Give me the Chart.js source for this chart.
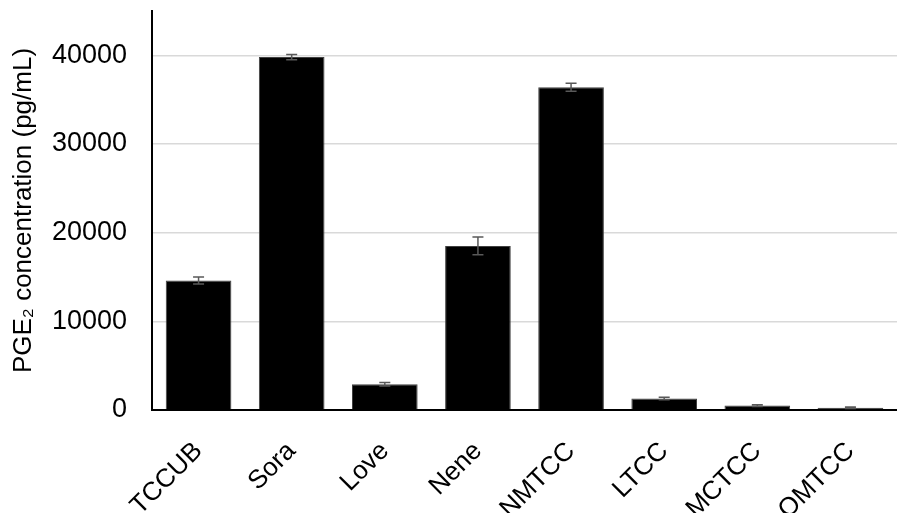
<!DOCTYPE html>
<html>
<head>
<meta charset="utf-8">
<script src="https://cdn.jsdelivr.net/npm/chart.js@4/dist/chart.umd.min.js"></script>
<style>
  html, body { margin: 0; padding: 0; background: #fff; }
  #wrap { width: 897px; height: 513px; }
</style>
</head>
<body>
<div id="wrap"><canvas id="c" width="897" height="513"></canvas></div>
<script>
// Cell lines and measured PGE2 levels (mean and error)
const categories = ['TCCUB', 'Sora', 'Love', 'Nene', 'NMTCC', 'LTCC', 'MCTCC', 'OMTCC'];
const meanValues = [14600, 39800, 2900, 18500, 36400, 1300, 500, 250];
const errorValues = [400, 300, 200, 1000, 450, 150, 100, 80];
const yTicks = [0, 10000, 20000, 30000, 40000];

const FONT = '"Liberation Sans", Arial, sans-serif';

// Draws symmetric error bars on top of each bar using the chart's own scales
const errorBars = {
  id: 'errorBars',
  afterDatasetsDraw(chart) {
    const ctx = chart.ctx;
    const meta = chart.getDatasetMeta(0);
    const y = chart.scales.y;
    ctx.save();
    ctx.strokeStyle = '#595959';
    ctx.lineWidth = 1.5;
    meta.data.forEach((bar, i) => {
      const x = bar.x;
      const top = y.getPixelForValue(meanValues[i] + errorValues[i]);
      const bot = y.getPixelForValue(meanValues[i] - errorValues[i]);
      const cap = 5.5;
      ctx.beginPath();
      ctx.moveTo(x, top); ctx.lineTo(x, bot);
      ctx.moveTo(x - cap, top); ctx.lineTo(x + cap, top);
      ctx.moveTo(x - cap, bot); ctx.lineTo(x + cap, bot);
      ctx.stroke();
    });
    ctx.restore();
  }
};

new Chart(document.getElementById('c'), {
  type: 'bar',
  data: {
    labels: categories,
    datasets: [{
      data: meanValues,
      backgroundColor: '#000000',
      borderColor: '#404040',
      borderWidth: 1,
      barPercentage: 0.705,
      categoryPercentage: 1.0
    }]
  },
  options: {
    responsive: false,
    animation: false,
    layout: { padding: { top: 11, right: 0, left: 0, bottom: 0 } },
    plugins: { legend: { display: false }, tooltip: { enabled: false } },
    scales: {
      x: {
        grid: { display: false, drawTicks: false },
        border: { display: true, color: '#000', width: 2 },
        ticks: {
          color: '#000',
          font: { family: FONT, size: 26 },
          minRotation: 45,
          maxRotation: 45,
          padding: 26,
          autoSkip: false
        },
        afterFit(scale) {
          scale.height = 103;
          scale.paddingLeft = 0;
          scale.paddingRight = 0;
        }
      },
      y: {
        min: 0,
        max: 45000,
        afterBuildTicks(scale) {
          scale.ticks = yTicks.map(v => ({ value: v }));
        },
        grid: { color: '#d9d9d9', lineWidth: 1.5, drawTicks: false },
        border: { display: true, color: '#000', width: 2 },
        ticks: {
          color: '#000',
          font: { family: FONT, size: 27 },
          padding: 25,
          callback: v => String(v)
        },
        title: {
          display: true,
          text: 'PGE\u2082 concentration (pg/mL)',
          color: '#000',
          font: { family: FONT, size: 26 },
          padding: { top: 8, bottom: 0 }
        },
        afterFit(scale) {
          scale.width = 152;
          scale.paddingTop = 0;
          scale.paddingBottom = 0;
        }
      }
    }
  },
  plugins: [errorBars]
});
</script>
</body>
</html>
